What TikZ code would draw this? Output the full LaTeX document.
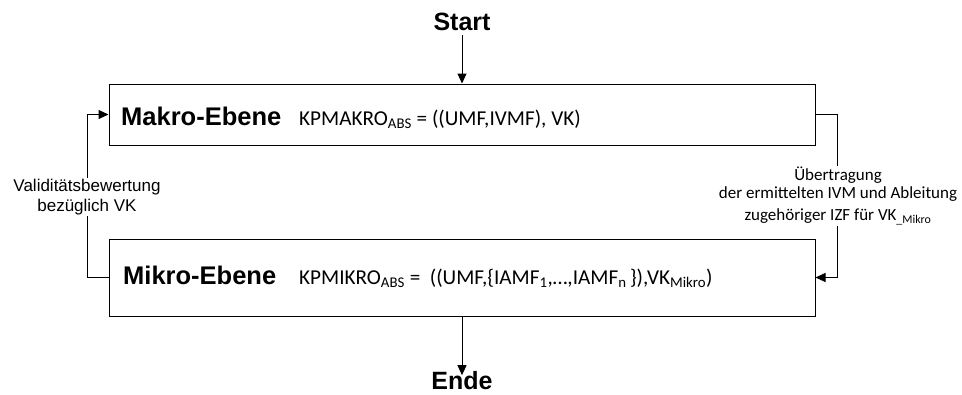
\documentclass[tikz,border=0pt]{standalone}
\usepackage{fontspec}
\setmainfont{Liberation Sans}
\newfontfamily\calib{Carlito}
\usetikzlibrary{arrows.meta}
\begin{document}
\begin{tikzpicture}[x=1pt,y=-1pt,
  flow/.style={line width=1pt,-{Triangle[length=10pt,width=9pt]}},
  levelbox/.style={draw,line width=1pt,minimum width=706pt,inner sep=0pt},
  term/.style={font=\fontsize{25}{28}\selectfont\bfseries,inner sep=0pt},
  title/.style={font=\fontsize{25.5}{28}\selectfont\bfseries,anchor=base west,inner sep=0pt},
  formula/.style={font=\calib\fontsize{21.2}{24}\selectfont,anchor=base west,inner sep=0pt},
  sidelabel/.style={fill=white,align=center,inner sep=1pt}]
\useasboundingbox (0,0) rectangle (962,394);

% terminals
\node[term] (start) at (462,22) {Start};
\node[term,anchor=base] (ende) at (462,389.5) {Ende};

% the two levels
\node[levelbox,minimum height=61pt] (makro) at (462,114.5) {};
\node[levelbox,minimum height=77pt] (mikro) at (462,277.5) {};

\node[title] (makrot) at (121,125) {Makro-Ebene};
\node[formula] (makrof) at (299,125) {KPMAKRO\textsubscript{ABS} = ((UMF,IVMF), VK)};
\node[title] (mikrot) at (123,284) {Mikro-Ebene};
\node[formula] (mikrof) at (299,284) {KPMIKRO\textsubscript{ABS} =~ ((UMF,\{IAMF\textsubscript{1},…,IAMF\textsubscript{n}\,\}),VK\textsubscript{Mikro})};

% main flow
\draw[flow] (start.south) ++(0,4) -- (makro.north);
\draw[flow] (mikro.south) -- ([yshift=-4pt]ende.north);

% transfer from macro to micro level
\coordinate (rturn) at (837,114.5);
\draw[flow] (makro.east) -- (rturn) |- (mikro.east);
\node[sidelabel,font=\calib\fontsize{17}{18}\selectfont] (transfer) at (838,196)
  {Übertragung\\der ermittelten IVM und Ableitung\\[4pt]zugehöriger IZF für VK\textsubscript{\_Mikro}};

% validity feedback from micro to macro level
\coordinate (lturn) at (87,277.5);
\draw[flow] (mikro.west) -- (lturn) |- (makro.west);
\node[sidelabel,font=\fontsize{17}{20}\selectfont] (valid) at (87,197)
  {Validitätsbewertung\\bezüglich VK};
\end{tikzpicture}
\end{document}
